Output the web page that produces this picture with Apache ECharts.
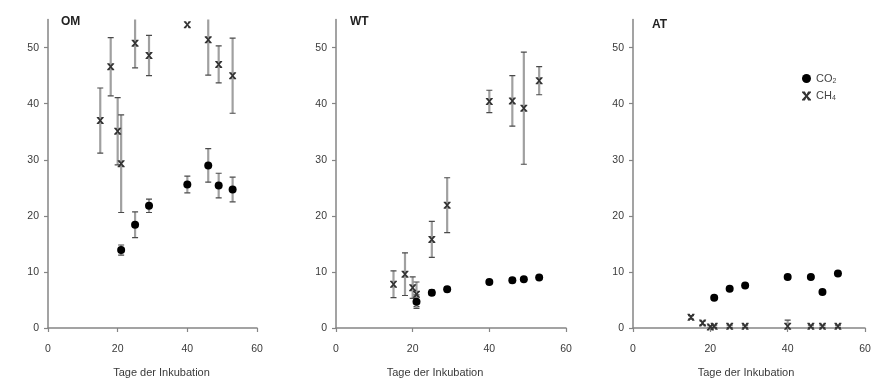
<!DOCTYPE html>
<html>
<head>
<meta charset="utf-8">
<script src="https://cdn.jsdelivr.net/npm/echarts@6/dist/echarts.min.js"></script>
<style>
  html, body { margin: 0; padding: 0; background: #fff; }
  #chart { width: 881px; height: 383px; }
</style>
</head>
<body>
<div id="chart"></div>
<script>
// Sampling days of the incubation
const ch4Days = [15, 18, 20, 21, 25, 29, 40, 46, 49, 53];
const co2Days = [21, 25, 29, 40, 46, 49, 53];

// OM
const omCH4 = [37.0, 46.6, 35.1, 29.3, 50.8, 48.6, 54.1, 51.4, 47.0, 45.0];
const omCH4Err = [5.8, 5.2, 6.0, 8.7, 4.4, 3.6, 0, 6.3, 3.3, 6.7];
const omCO2 = [13.9, 18.4, 21.8, 25.6, 29.0, 25.4, 24.7];
const omCO2Err = [0.9, 2.3, 1.2, 1.5, 3.0, 2.2, 2.2];

// WT
const wtCH4 = [7.8, 9.6, 7.2, 6.0, 15.8, 21.9, 40.4, 40.5, 39.2, 44.1];
const wtCH4Err = [2.4, 3.8, 1.9, 2.2, 3.2, 4.9, 2.0, 4.5, 10.0, 2.5];
const wtCO2 = [4.7, 6.3, 6.9, 8.2, 8.5, 8.7, 9.0];
const wtCO2Err = [1.2, 0.5, 0.4, 0.3, 0.4, 0.3, 0.3];

// AT
const atCH4 = [1.9, 0.9, 0.2, 0.3, 0.3, 0.3, 0.3, 0.3, 0.3, 0.3];
const atCH4Err = [0.3, 0.3, 0.2, 0.2, 0.2, 0.2, 1.1, 0.2, 0.2, 0.2];
const atCO2 = [5.4, 7.0, 7.6, 9.1, 9.1, 6.4, 9.7];
const atCO2Err = [0.3, 0.3, 0.3, 0.3, 0.3, 0.3, 0.3];

const panelNames = ['OM', 'WT', 'AT'];
const xTicks = [0, 20, 40, 60];
const yTicks = [0, 10, 20, 30, 40, 50];
const xTitle = 'Tage der Inkubation';

const panels = [
  { ch4: omCH4, ch4Err: omCH4Err, co2: omCO2, co2Err: omCO2Err },
  { ch4: wtCH4, ch4Err: wtCH4Err, co2: wtCO2, co2Err: wtCO2Err },
  { ch4: atCH4, ch4Err: atCH4Err, co2: atCO2, co2Err: atCO2Err }
];

const layout = [
  { left: 48, width: 209, titleX: 61, titleY: 16, namePad: [0, 0, 0, 18] },
  { left: 336, width: 230, titleX: 350, titleY: 16, namePad: [0, 32, 0, 0] },
  { left: 633, width: 232, titleX: 652, titleY: 19, namePad: [0, 6, 0, 0] }
];

const X_SYMBOL = 'path://M0,0H3.2L5,3.4L6.8,0H10V1.2L6.4,5L10,8.8V10H6.8L5,6.6L3.2,10H0V8.8L3.6,5L0,1.2Z';
const axisGray = '#858585';
const labelColor = '#3a3a3a';
const fontFamily = 'Liberation Sans, Arial, sans-serif';

function zip3(xs, ys, es) {
  return xs.map((x, i) => [x, ys[i], es[i]]);
}

function renderErrorBar(params, api) {
  const x = api.value(0), y = api.value(1), e = api.value(2);
  if (!e) return null;
  const hi = api.coord([x, y + e]);
  const lo = api.coord([x, y - e]);
  const cap = 3;
  return {
    type: 'group',
    children: [
      { type: 'line', shape: { x1: hi[0], y1: hi[1], x2: lo[0], y2: lo[1] },
        style: { stroke: '#a0a0a0', lineWidth: 2.2 } },
      { type: 'line', shape: { x1: hi[0] - cap, y1: hi[1], x2: hi[0] + cap, y2: hi[1] },
        style: { stroke: '#4a4a4a', lineWidth: 1.2 } },
      { type: 'line', shape: { x1: lo[0] - cap, y1: lo[1], x2: lo[0] + cap, y2: lo[1] },
        style: { stroke: '#4a4a4a', lineWidth: 1.2 } }
    ]
  };
}

const grids = [], xAxes = [], yAxes = [], series = [], graphics = [];

panels.forEach((p, i) => {
  const L = layout[i];
  grids.push({ left: L.left, width: L.width, top: 19.6, height: 315.4 });
  xAxes.push({
    type: 'value', gridIndex: i, min: 0, max: 60, interval: 20,
    name: xTitle, nameLocation: 'middle', nameGap: 39,
    nameTextStyle: { fontFamily, fontSize: 11, color: labelColor, padding: L.namePad },
    axisLine: { lineStyle: { color: axisGray, width: 1.5 } },
    axisTick: { show: true, length: 4, lineStyle: { color: axisGray, width: 1.2 }, customValues: xTicks },
    axisLabel: { fontFamily, fontSize: 10.5, color: labelColor, margin: 16, customValues: xTicks },
    splitLine: { show: false }
  });
  yAxes.push({
    type: 'value', gridIndex: i, min: 0, max: 55,
    axisLine: { show: true, lineStyle: { color: axisGray, width: 1.5 } },
    axisTick: { show: true, length: 4, lineStyle: { color: axisGray, width: 1.2 }, customValues: yTicks },
    axisLabel: { fontFamily, fontSize: 10.5, color: labelColor, margin: 9, customValues: yTicks },
    splitLine: { show: false }
  });

  series.push({
    type: 'custom', name: 'CH4 err', xAxisIndex: i, yAxisIndex: i, z: 1,
    renderItem: renderErrorBar, clip: true,
    data: zip3(ch4Days, p.ch4, p.ch4Err)
  });
  series.push({
    type: 'custom', name: 'CO2 err', xAxisIndex: i, yAxisIndex: i, z: 1,
    renderItem: renderErrorBar, clip: true,
    data: zip3(co2Days, p.co2, p.co2Err)
  });
  series.push({
    type: 'scatter', name: 'CO2', xAxisIndex: i, yAxisIndex: i, z: 3,
    symbol: 'circle', symbolSize: 8,
    itemStyle: { color: '#000', opacity: 1 },
    data: co2Days.map((d, k) => [d, p.co2[k]])
  });
  series.push({
    type: 'scatter', name: 'CH4', xAxisIndex: i, yAxisIndex: i, z: 3,
    symbol: X_SYMBOL, symbolSize: [7, 7],
    itemStyle: { color: '#333', opacity: 1 },
    data: ch4Days.map((d, k) => [d, p.ch4[k]])
  });

  graphics.push({
    type: 'text', left: L.titleX, top: L.titleY,
    style: { text: panelNames[i], font: 'bold 12px ' + fontFamily, fill: '#222' }
  });
});

const chart = echarts.init(document.getElementById('chart'), null, { renderer: 'canvas' });
chart.setOption({
  animation: false,
  backgroundColor: '#fff',
  grid: grids,
  xAxis: xAxes,
  yAxis: yAxes,
  series: series,
  graphic: graphics,
  legend: {
    data: [
      { name: 'CO2', icon: 'circle' },
      { name: 'CH4', icon: X_SYMBOL }
    ],
    orient: 'vertical', left: 797, top: 68,
    itemWidth: 9, itemHeight: 9, itemGap: 6,
    selectedMode: false,
    formatter: name => name === 'CO2' ? 'CO{s|2}' : 'CH{s|4}',
    textStyle: {
      fontFamily, fontSize: 11, color: '#444',
      rich: { s: { fontFamily, fontSize: 7, color: '#444', verticalAlign: 'bottom', padding: [5, 0, 0, 0] } }
    }
  }
});
</script>
</body>
</html>
